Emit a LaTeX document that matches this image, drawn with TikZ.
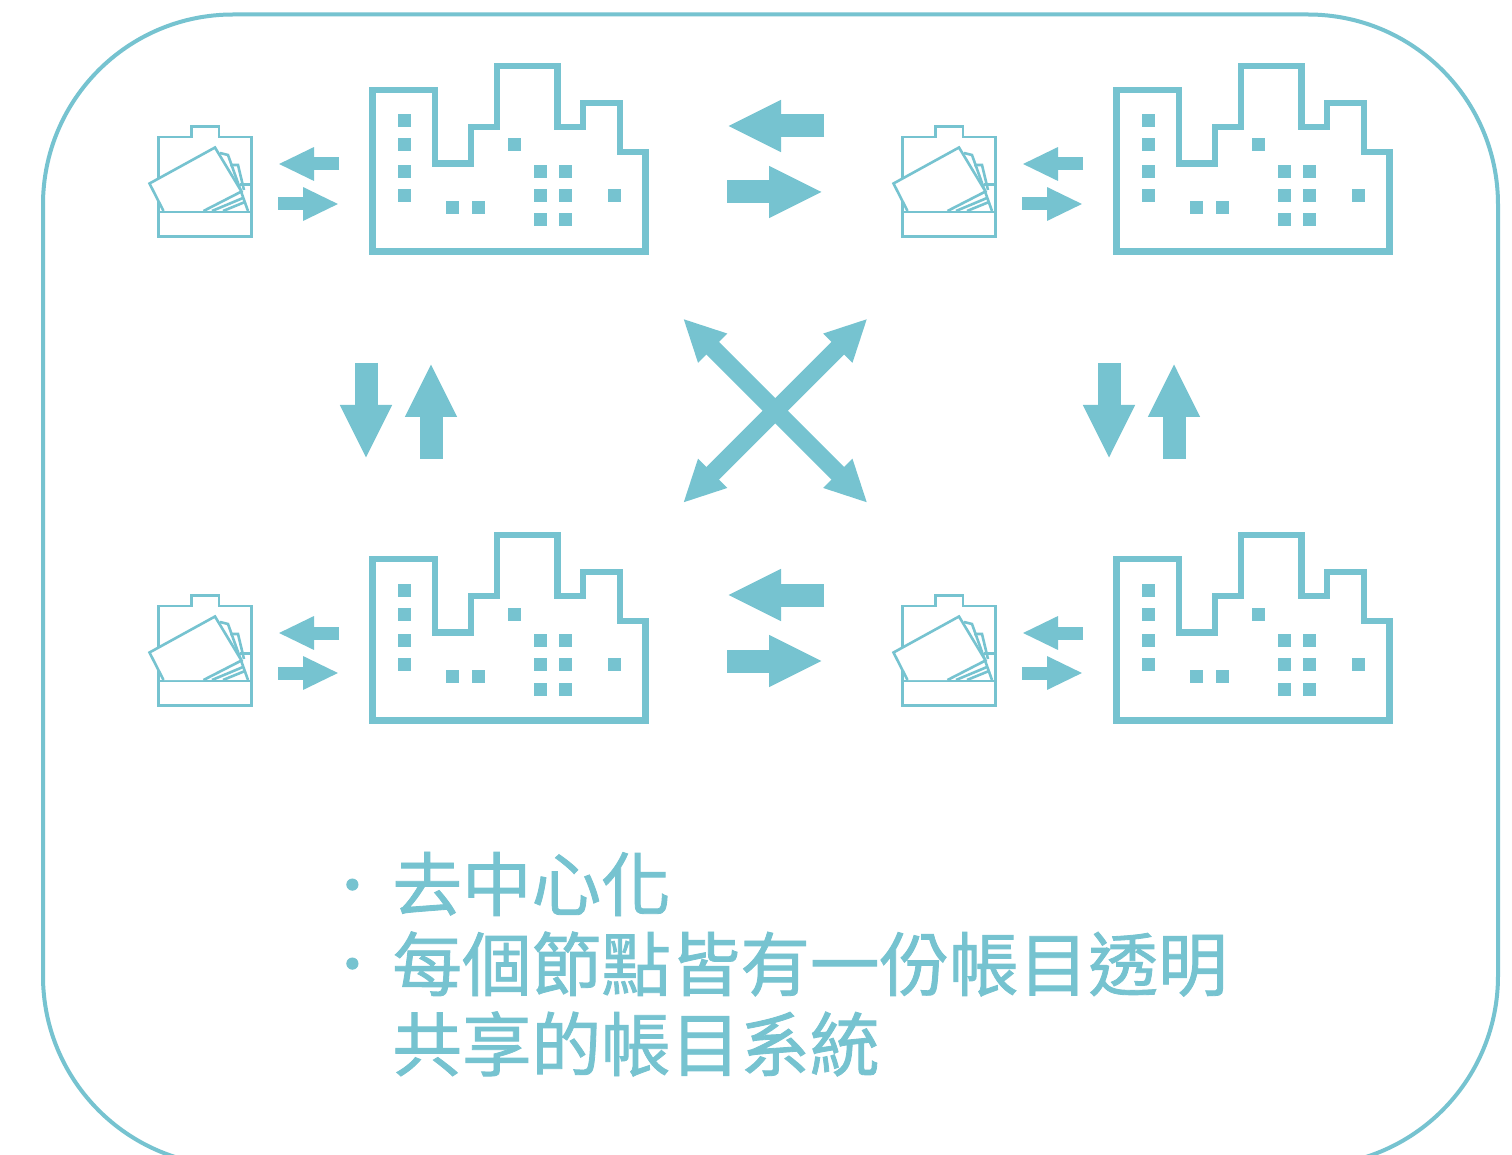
\documentclass[tikz,border=0pt]{standalone}
\usepackage{fontspec}
\usetikzlibrary{arrows.meta}
\newfontfamily\cjk[FakeBold=1.2]{Noto Sans CJK TC}
\definecolor{teal}{HTML}{76C3D0}
\tikzset{
	smallarrow/.style={teal,line width=6.5pt,-{Triangle[length=18pt,width=15.5pt]}},
	bigarrow/.style={teal,line width=11.5pt,-{Triangle[length=27pt,width=24pt]}},
	crossarrow/.style={teal,line width=9pt,{Triangle[length=21pt,width=19pt]}-{Triangle[length=21pt,width=19pt]}},
	notetext/.style={teal,anchor=west,inner sep=0pt,font=\cjk\fontsize{34.8pt}{40pt}\selectfont},
	notedot/.style={teal,anchor=west,inner sep=0pt,font=\cjk\fontsize{27pt}{30pt}\selectfont},
	site/.pic={
		% tray
		\draw [teal,line width=1.3pt] (158.5,137) -- (191.5,137) -- (191.5,126.5) -- (219,126.5) -- (219,137) -- (251.5,137) -- (251.5,236.5) -- (158.5,236.5) -- cycle;
		\draw [teal,line width=1.3pt] (158.5,212) -- (251.5,212);
		\draw [teal,line width=1.3pt] (240,184.5) -- (251.5,184.5);
		\draw [teal,line width=1.3pt] (220,153) -- (228,155) -- (248,211);
		\draw [teal,line width=1.3pt] (230,165) -- (238,165) -- (244,190);
		\draw [teal,line width=1.3pt] (223,211) -- (245,202);
		\draw [teal,line width=1.3pt] (212,211) -- (243,198);
		\fill [white] (149.5,183.5) -- (215,147.5) -- (241.5,191.5) -- (203.5,211) -- (163.5,211) -- cycle;
		\draw [teal,line width=1.3pt] (163.5,211) -- (149.5,183.5) -- (215,147.5) -- (241.5,191.5) -- (203.5,211);
		% factory
		\draw [teal,line width=3.2pt,miter limit=4] (372.5,90) -- (435,90) -- (435,163.5) -- (471,163.5) -- (471,127) -- (497,127) -- (497,66) -- (557.5,66) -- (557.5,127) -- (583,127) -- (583,103) -- (620,103) -- (620,152) -- (645.5,152) -- (645.5,251.5) -- (372.5,251.5) -- cycle;
		\foreach \wx/\wy in {404/121,404/145,404/171.5,404/195.5,452/207.5,478.5/207.5,514.5/145,540/171.5,565/171.5,540/195.5,565/195.5,540/220,565/220,614.5/195.5}{%
			\fill [teal] (\wx-6.5,\wy-6.5) rectangle (\wx+6.5,\wy+6.5);
			}
		% tray to factory
		\coordinate (trayin) at (339,164);
		\coordinate (trayintip) at (278,164);
		\coordinate (trayout) at (278,204);
		\coordinate (trayouttip) at (339,204);
		\draw [smallarrow] (trayin) -- (trayintip);
		\draw [smallarrow] (trayout) -- (trayouttip);
	}
}
\begin{document}
\begin{tikzpicture}[x=0.5pt,y=-0.5pt]
	\clip (0,0) rectangle (1512,1155);
	\fill [white] (0,0) rectangle (1512,1155);
	\draw [teal,line width=2pt,rounded corners=95pt] (43,14.5) rectangle (1498,1166);
	\foreach \x in {0,744}{%
		\foreach \y in {0,469}{%
			\pic at (\x,\y) {site};
			}
		}
	% between the factories
	\foreach \y in {0,469}{%
		\coordinate (west) at (824,126+\y);
		\coordinate (westtip) at (727,126+\y);
		\coordinate (east) at (727,192+\y);
		\coordinate (easttip) at (823,192+\y);
		\draw [bigarrow] (west) -- (westtip);
		\draw [bigarrow] (east) -- (easttip);
		}
	\foreach \x in {0,743}{%
		\coordinate (south) at (366+\x,363);
		\coordinate (southtip) at (366+\x,459);
		\coordinate (north) at (431+\x,459);
		\coordinate (northtip) at (431+\x,363);
		\draw [bigarrow] (south) -- (southtip);
		\draw [bigarrow] (north) -- (northtip);
		}
	\coordinate (nw) at (683,318.5);
	\coordinate (ne) at (867.5,318.5);
	\coordinate (sw) at (683,503);
	\coordinate (se) at (867.5,503);
	\draw [crossarrow] (nw) -- (se);
	\draw [crossarrow] (ne) -- (sw);
	% text
	\node [notedot] (bulleta) at (325,892) {·};
	\node [notetext] (linea) at (392,884) {去中心化};
	\node [notedot] (bulletb) at (325,971) {·};
	\node [notetext] (lineb) at (392,964) {每個節點皆有一份帳目透明};
	\node [notetext] (linec) at (392,1044) {共享的帳目系統};
\end{tikzpicture}
\end{document}
